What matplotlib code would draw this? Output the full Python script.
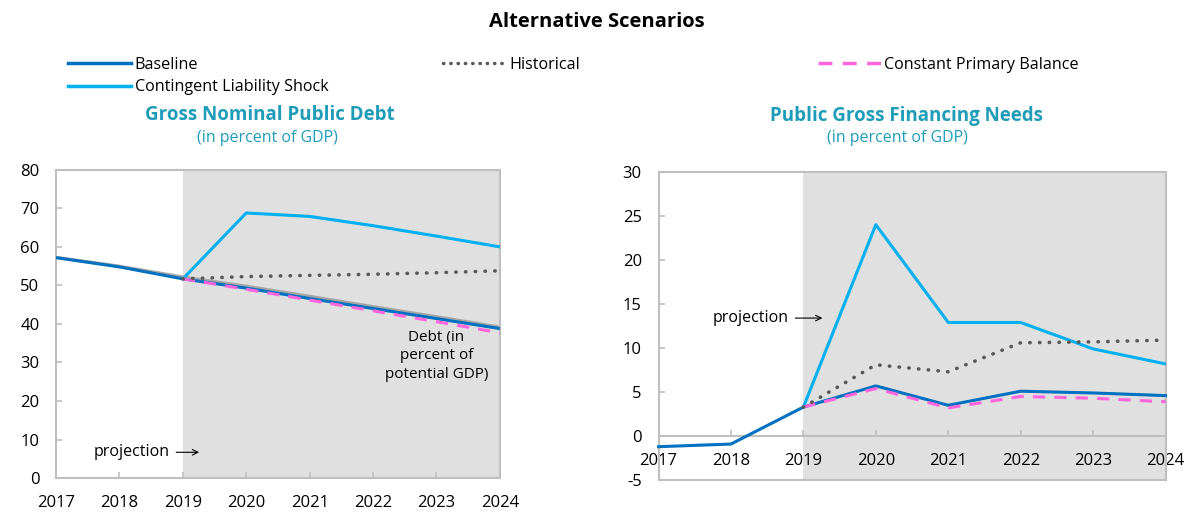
import numpy as np
import matplotlib.pyplot as plt
from matplotlib.lines import Line2D

plt.rcParams['font.family'] = ['Open Sans', 'DejaVu Sans']
plt.rcParams['axes.unicode_minus'] = False

years = [2017, 2018, 2019, 2020, 2021, 2022, 2023, 2024]
proj_years = [2019, 2020, 2021, 2022, 2023, 2024]

# gross nominal public debt
debt_baseline = [57.2, 54.8, 51.7, 49.3, 46.6, 44.0, 41.4, 38.8]
debt_potential = [57.3, 55.0, 52.2, 49.8, 47.2, 44.5, 41.9, 39.2]
debt_historical = [51.7, 52.3, 52.6, 52.9, 53.3, 53.8]
debt_cpb = [51.7, 49.0, 46.2, 43.4, 40.6, 37.7]
debt_shock = [51.7, 68.8, 67.9, 65.5, 62.8, 60.0]

# public gross financing needs
gfn_baseline = [-1.2, -0.9, 3.3, 5.7, 3.5, 5.1, 4.9, 4.6]
gfn_historical = [3.3, 8.1, 7.3, 10.6, 10.7, 10.9]
gfn_cpb = [3.3, 5.4, 3.2, 4.5, 4.3, 3.9]
gfn_shock = [3.3, 24.0, 12.9, 12.9, 9.9, 8.2]

c_base = '#0070C0'
c_shock = '#00B0F0'
c_hist = '#595959'
c_cpb = '#FF66DD'
c_teal = '#1F9CB8'
c_spine = '#BFBFBF'
c_shade = '#E0E0E0'

fig = plt.figure(figsize=(11.93, 5.13), dpi=100)
ax1 = fig.add_axes([0.047, 0.068, 0.372, 0.601])
ax2 = fig.add_axes([0.552, 0.064, 0.425, 0.601])


def style(ax, ylo, yhi, step):
    ax.set_xlim(2017, 2024)
    ax.set_ylim(ylo, yhi)
    ax.axvspan(2019, 2024, color=c_shade, zorder=0, lw=0)
    ax.set_xticks(years)
    ax.set_yticks(np.arange(ylo, yhi + 1, step))
    for s in ax.spines.values():
        s.set_color(c_spine)
        s.set_linewidth(1.5)
    ax.tick_params(axis='both', direction='in', length=4, width=1.2,
                   color=c_spine, labelsize=12)
    ax.tick_params(axis='y', pad=12)


# left panel
style(ax1, 0, 80, 10)
ax1.tick_params(axis='x', pad=12)
ax1.plot(years, debt_potential, color='#A6A6A6', lw=2.2, zorder=2)
ax1.plot(years, debt_baseline, color=c_base, lw=2.2, zorder=3)
ax1.plot(proj_years, debt_cpb, color=c_cpb, lw=2.2, ls=(0, (4, 3)), zorder=4)
ax1.plot(proj_years, debt_historical, color=c_hist, lw=2.6, ls=(0, (0.1, 2.6)),
         dash_capstyle='round', zorder=4)
ax1.plot(proj_years, debt_shock, color=c_shock, lw=2.2, zorder=3)
ax1.text(2017.6, 6.7, 'projection', fontsize=11.5, va='center')
ax1.annotate('', xy=(2019.3, 6.7), xytext=(2018.85, 6.7),
             arrowprops=dict(arrowstyle='->', color='black', lw=0.8))
ax1.text(2023.0, 31.7, 'Debt (in\npercent of\npotential GDP)', fontsize=11,
         ha='center', va='center', linespacing=1.35)

# right panel
style(ax2, -5, 30, 5)
ax2.tick_params(axis='x', pad=12)
ax2.spines['bottom'].set_position(('data', 0))
ax2.axhline(-5, color=c_spine, lw=1.5, clip_on=False, zorder=5)
ax2.plot(years, gfn_baseline, color=c_base, lw=2.2, zorder=3, clip_on=False)
ax2.plot(proj_years, gfn_cpb, color=c_cpb, lw=2.2, ls=(0, (4, 3)), zorder=4)
ax2.plot(proj_years, gfn_historical, color=c_hist, lw=2.6, ls=(0, (0.1, 2.6)),
         dash_capstyle='round', zorder=4)
ax2.plot(proj_years, gfn_shock, color=c_shock, lw=2.2, zorder=3)
ax2.text(2017.75, 13.4, 'projection', fontsize=11.5, va='center')
ax2.annotate('', xy=(2019.3, 13.4), xytext=(2018.85, 13.4),
             arrowprops=dict(arrowstyle='->', color='black', lw=0.8))

# titles
fig.text(0.5, 1 - 22 / 513, 'Alternative Scenarios', fontsize=14.5,
         fontweight='bold', ha='center', va='center')
fig.text(270 / 1193, 1 - 115 / 513, 'Gross Nominal Public Debt', color=c_teal,
         fontsize=13.5, fontweight='bold', ha='center', va='center')
fig.text(267 / 1193, 1 - 138 / 513, '(in percent of GDP)', color=c_teal,
         fontsize=11.5, ha='center', va='center')
fig.text(906 / 1193, 1 - 116 / 513, 'Public Gross Financing Needs', color=c_teal,
         fontsize=13.5, fontweight='bold', ha='center', va='center')
fig.text(897 / 1193, 1 - 138 / 513, '(in percent of GDP)', color=c_teal,
         fontsize=11.5, ha='center', va='center')

# legends
h_base = Line2D([], [], color=c_base, lw=2.5)
h_shock = Line2D([], [], color=c_shock, lw=2.5)
h_hist = Line2D([], [], color=c_hist, lw=2.5, ls=(0, (0.1, 2.0)),
                dash_capstyle='round')
h_cpb = Line2D([], [], color=c_cpb, lw=2.5, ls=(0, (4, 3)))
common = dict(frameon=False, fontsize=11.6, handlelength=3.9, handletextpad=0.2,
              loc='upper left', labelspacing=0.4, borderaxespad=0)
fig.legend([h_base, h_shock], ['Baseline', 'Contingent Liability Shock'],
           bbox_to_anchor=(0.052, 0.902), **common)
fig.legend([h_hist], ['Historical'], bbox_to_anchor=(0.366, 0.902), **common)
fig.legend([h_cpb], ['Constant Primary Balance'],
           bbox_to_anchor=(0.68, 0.902), **common)

fig.savefig('out.png', dpi=100)
